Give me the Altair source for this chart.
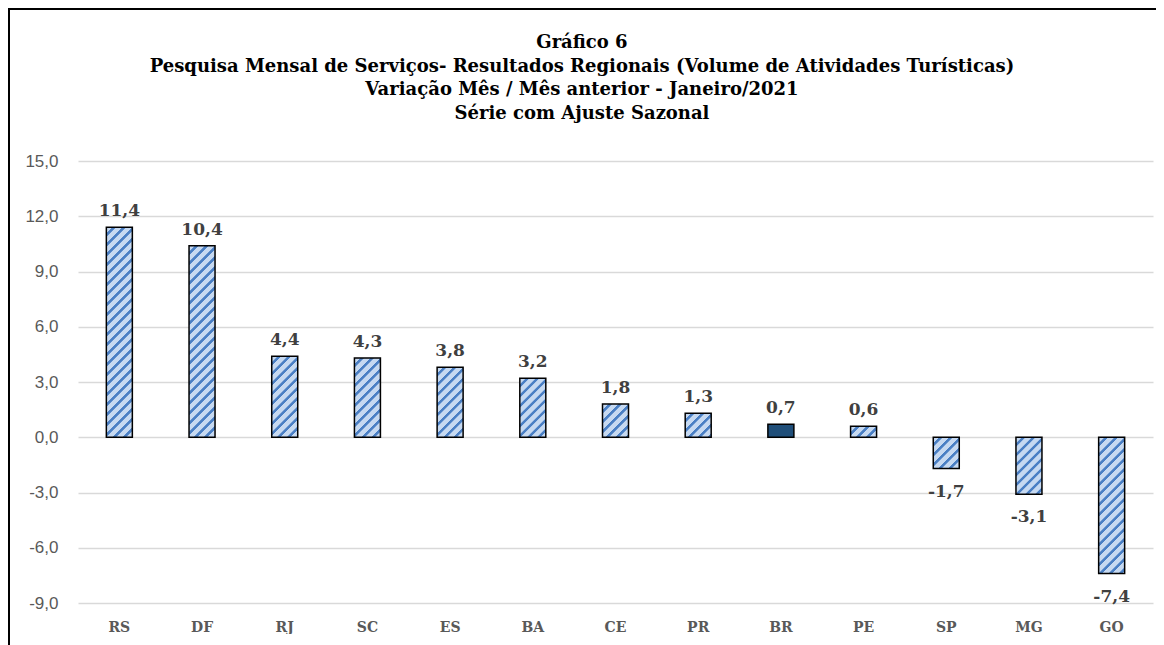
import math
import altair as alt
import pandas as pd

# ---- data ----
categories = ["RS", "DF", "RJ", "SC", "ES", "BA", "CE", "PR", "BR", "PE", "SP", "MG", "GO"]
values = [11.4, 10.4, 4.4, 4.3, 3.8, 3.2, 1.8, 1.3, 0.7, 0.6, -1.7, -3.1, -7.4]
y_ticks = [-9, -6, -3, 0, 3, 6, 9, 12, 15]
title_lines = [
    "Gráfico 6",
    "Pesquisa Mensal de Serviços- Resultados Regionais (Volume de Atividades Turísticas)",
    "Variação Mês / Mês anterior - Janeiro/2021",
    "Série com Ajuste Sazonal",
]

df = pd.DataFrame({"cat": categories, "v": values})

# ---- layout / style ----
W_PLOT, H_PLOT = 1075, 442
Y_MIN, Y_MAX = -9, 15
BAR_W = 26
PXU = H_PLOT / (Y_MAX - Y_MIN)
LIGHT, DARK = "#c6d9f1", "#4a7fc4"

# diagonal hatch built as a linear gradient (stripes along x+y in pixels)
P, D, L = 10.0, 4.4, 260.0
stops = []
n = int(math.ceil(L / P))
for i in range(n):
    o = i * P / L
    a = (i * P + P - D) / L
    b = (i * P + P - D + 0.8) / L
    c = ((i + 1) * P - 0.8) / L
    for off, col in [(o, LIGHT), (a, LIGHT), (b, DARK), (c, DARK)]:
        if off <= 1:
            stops.append((off, col))
stops_js = "[" + ",".join("{offset:%.5f,color:'%s'}" % (o, c) for o, c in stops) + "]"
hpx = f"(abs(datum.v)*{PXU:.5f})"
den = f"({BAR_W*BAR_W}+{hpx}*{hpx})"
grad_expr = (
    "datum.cat === 'BR' ? '#1f4e79' : "
    f"{{gradient:'linear', x1:0, y1:0, x2:{L}*{BAR_W}/{den}, y2:{L}*{hpx}/{den}, stops:{stops_js}}}"
)

label_expr = "replace(replace(format(datum.v, '.1f'), '.', ','), '\u2212', '-')"

base = alt.Chart(df).transform_calculate(lab=label_expr, grad=grad_expr)

x_enc = alt.X(
    "cat:N",
    sort=categories,
    scale=alt.Scale(paddingInner=0.68, paddingOuter=0.34),
    axis=alt.Axis(
        title=None, domain=False, ticks=False, labelAngle=0,
        labelFont="DejaVu Serif", labelFontWeight="bold", labelFontSize=14,
        labelColor="#595959", labelPadding=17, grid=False,
    ),
)
y_enc = alt.Y(
    "v:Q",
    scale=alt.Scale(domain=[Y_MIN, Y_MAX], nice=False, zero=False),
    axis=alt.Axis(
        title=None, values=y_ticks, domain=False, ticks=False,
        labelExpr="replace(replace(format(datum.value, '.1f'), '.', ','), '\u2212', '-')",
        labelFont="Liberation Sans", labelFontSize=17, labelColor="#595959",
        labelPadding=20, grid=True, gridColor="#d9d9d9", gridWidth=1.5,
    ),
)

bars = base.mark_bar(size=BAR_W, stroke="black", strokeWidth=1.5).encode(
    x=x_enc,
    y=y_enc,
    y2=alt.datum(0),
    fill=alt.Fill("grad:N", scale=None, legend=None),
)

txt_style = dict(font="DejaVu Serif", fontWeight="bold", fontSize=17, color="#404040")

pos_text = base.transform_filter("datum.v >= 0").mark_text(
    baseline="alphabetic", dy=-11, **txt_style
).encode(x=alt.X("cat:N", sort=categories), y="v:Q", text="lab:N")

neg_text = base.transform_filter("datum.v < 0").mark_text(
    baseline="top", dy=15, **txt_style
).encode(x=alt.X("cat:N", sort=categories), y="v:Q", text="lab:N")

chart = alt.layer(bars, pos_text, neg_text).properties(
    width=W_PLOT,
    height=H_PLOT,
    padding={"left": 14, "top": 24, "right": 2, "bottom": 0},
    title=alt.TitleParams(
        text=title_lines, font="DejaVu Serif", fontWeight="bold", fontSize=18,
        color="black", anchor="middle", frame="bounds", lineHeight=23.5, offset=29.5,
        dx=-7,
    ),
).configure_view(stroke=None)

css = (
    "body { margin-bottom: 0; } "
    "#vis.vega-embed { border-top: 2px solid #000; border-left: 2px solid #000; "
    "box-sizing: border-box; min-height: 637px; } "
    ".vega-embed svg.marks { display: block; }"
)

chart.save("out.html", embed_options={"renderer": "svg", "actions": False, "defaultStyle": css})
